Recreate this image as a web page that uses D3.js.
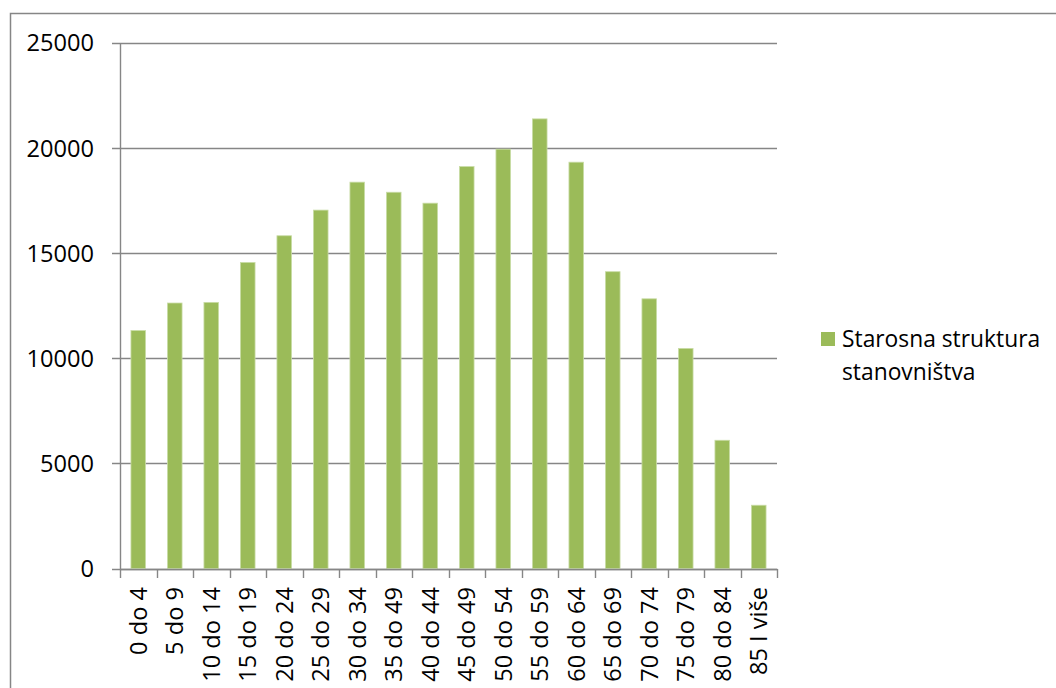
<!DOCTYPE html>
<html>
<head>
<meta charset="utf-8">
<script src="https://cdn.jsdelivr.net/npm/d3@7/dist/d3.min.js"></script>
<style>
  html, body { margin: 0; padding: 0; background: #ffffff; }
  svg { display: block; }
  text { font-family: "Open Sans", "Noto Sans", sans-serif; fill: #000; }
</style>
</head>
<body>
<svg id="chart" width="1056" height="688"></svg>
<script>
const categories = ["0 do 4", "5 do 9", "10 do 14", "15 do 19", "20 do 24", "25 do 29", "30 do 34", "35 do 49", "40 do 44", "45 do 49", "50 do 54", "55 do 59", "60 do 64", "65 do 69", "70 do 74", "75 do 79", "80 do 84", "85 I više"];
const values = [11320, 12630, 12660, 14560, 15830, 17050, 18380, 17900, 17380, 19120, 19950, 21390, 19330, 14120, 12830, 10470, 6100, 3010];
const yTicks = [0, 5000, 10000, 15000, 20000, 25000];
const seriesName = ["Starosna struktura", "stanovništva"];

const svg = d3.select("#chart");
const grey = "#868686";
const barColor = "#9BBB59";

// outer frame
svg.append("rect")
  .attr("x", 10.5).attr("y", 13.5)
  .attr("width", 1100).attr("height", 800)
  .attr("fill", "none").attr("stroke", grey).attr("stroke-width", 1.5);

const plot = { left: 120, right: 777, top: 43, bottom: 568.5 };

const x = d3.scaleBand().domain(categories).range([plot.left, plot.right]).padding(0);
const y = d3.scaleLinear().domain([0, 25000]).range([plot.bottom, plot.top]);

// gridlines (with outside tick)
svg.append("g").selectAll("line").data(yTicks).join("line")
  .attr("x1", plot.left - 8).attr("x2", plot.right)
  .attr("y1", d => Math.round(y(d)) + 0.5).attr("y2", d => Math.round(y(d)) + 0.5)
  .attr("stroke", grey).attr("stroke-width", 1.4);

// y labels
svg.append("g").selectAll("text").data(yTicks).join("text")
  .attr("x", 94).attr("y", d => y(d))
  .attr("dy", "0.36em")
  .attr("text-anchor", "end")
  .attr("font-size", 23.6)
  .text(d => d);

// bars
const bw = x.bandwidth() * 0.4;
svg.append("g").selectAll("rect").data(values).join("rect")
  .attr("x", (d, i) => x(categories[i]) + (x.bandwidth() - bw) / 2)
  .attr("y", d => y(d))
  .attr("width", bw)
  .attr("height", d => y(0) - y(d))
  .attr("fill", barColor)
  .attr("stroke", "#c9dca6").attr("stroke-width", 0.8);

// y axis line
svg.append("line")
  .attr("x1", plot.left + 0.5).attr("x2", plot.left + 0.5)
  .attr("y1", plot.top).attr("y2", plot.bottom + 0.5)
  .attr("stroke", grey).attr("stroke-width", 1.4);

// x axis line
svg.append("line")
  .attr("x1", plot.left).attr("x2", plot.right + 0.5)
  .attr("y1", Math.round(y(0)) + 0.5).attr("y2", Math.round(y(0)) + 0.5)
  .attr("stroke", grey).attr("stroke-width", 1.4);

// x ticks at band boundaries
const bounds = categories.map(c => x(c)).concat([plot.right]);
svg.append("g").selectAll("line").data(bounds).join("line")
  .attr("x1", d => Math.round(d) + 0.5).attr("x2", d => Math.round(d) + 0.5)
  .attr("y1", Math.round(y(0))).attr("y2", Math.round(y(0)) + 9)
  .attr("stroke", grey).attr("stroke-width", 1.4);

// x labels rotated
svg.append("g").selectAll("text").data(categories).join("text")
  .attr("transform", d => `translate(${x(d) + x.bandwidth() / 2},587) rotate(-90)`)
  .attr("dy", "0.36em")
  .attr("text-anchor", "end")
  .attr("font-size", 23.6)
  .text(d => d);

// legend
svg.append("rect")
  .attr("x", 821).attr("y", 332).attr("width", 14).attr("height", 14)
  .attr("fill", barColor);
svg.append("g").selectAll("text").data(seriesName).join("text")
  .attr("x", 842).attr("y", (d, i) => 347 + i * 33)
  .attr("font-size", 22.8)
  .text(d => d);
</script>
</body>
</html>
